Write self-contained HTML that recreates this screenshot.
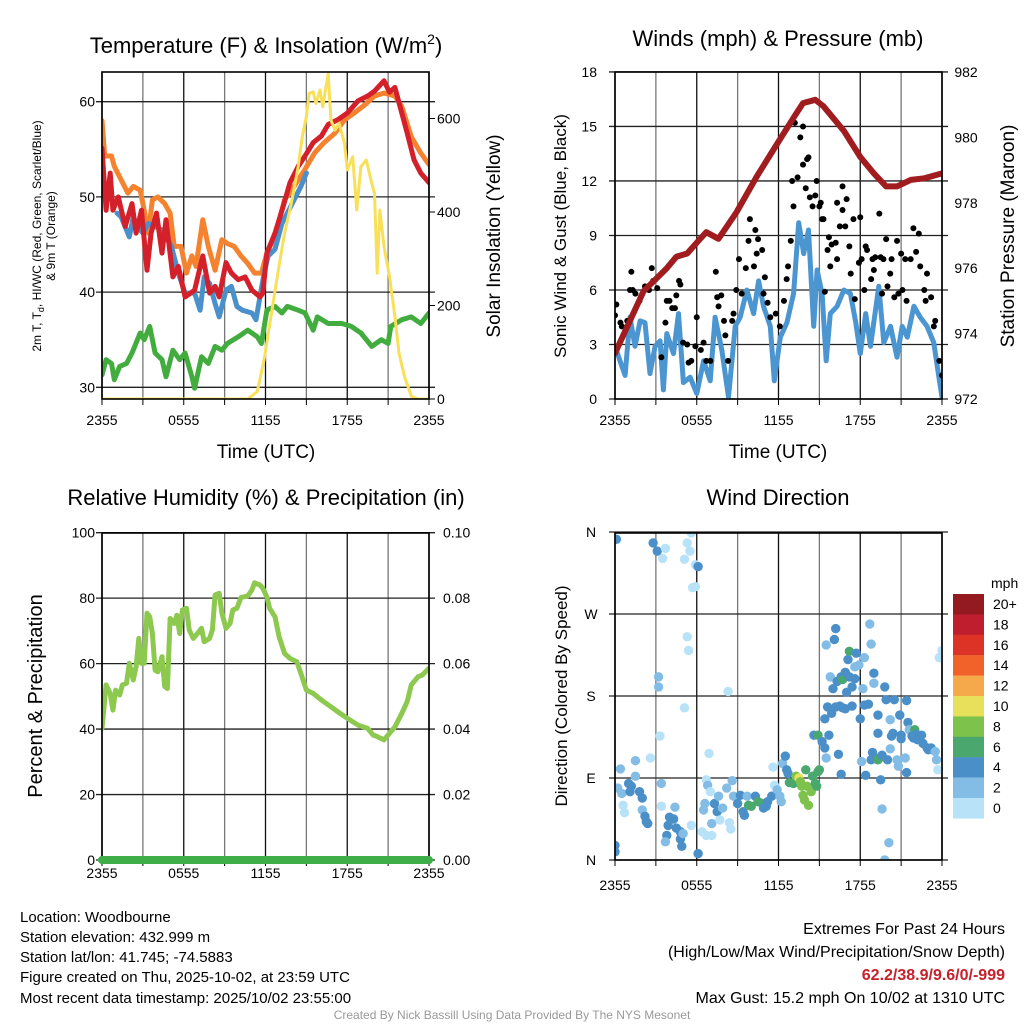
<!DOCTYPE html>
<html><head><meta charset="utf-8"><style>
html,body{margin:0;padding:0;background:#fff;}
svg{display:block;font-family:"Liberation Sans",Arial,sans-serif;}
</style></head><body>
<svg id="fig" width="1024" height="1024" viewBox="0 0 1024 1024" xmlns="http://www.w3.org/2000/svg">
<defs>
<clipPath id="c1"><rect x="102" y="72" width="327" height="327"/></clipPath>
<clipPath id="c2"><rect x="615" y="72" width="327" height="327"/></clipPath>
<clipPath id="c3"><rect x="102" y="533" width="327" height="327"/></clipPath>
<clipPath id="c4"><rect x="615" y="533" width="327" height="327"/></clipPath>
</defs>
<g id="p1"></g>
<g id="p2"></g>
<g id="p3"></g>
<g id="p4"></g>

<text x="266" y="53" font-size="22" text-anchor="middle">Temperature (F) &amp; Insolation (W/m<tspan dy="-9" font-size="14">2</tspan><tspan dy="9">)</tspan></text>
<text x="778" y="46" font-size="22" text-anchor="middle">Winds (mph) &amp; Pressure (mb)</text>
<text x="266" y="505" font-size="22" text-anchor="middle">Relative Humidity (%) &amp; Precipitation (in)</text>
<text x="778" y="505" font-size="22" text-anchor="middle">Wind Direction</text>

<text x="266" y="458" font-size="19" text-anchor="middle">Time (UTC)</text>
<text x="778" y="458" font-size="19" text-anchor="middle">Time (UTC)</text>

<text transform="translate(41,236) rotate(-90)" font-size="12" text-anchor="middle">2m T, T<tspan dy="3" font-size="9">d</tspan><tspan dy="-3">, HI/WC (Red, Green, Scarlet/Blue)</tspan></text>
<text transform="translate(55,236) rotate(-90)" font-size="12" text-anchor="middle">&amp; 9m T (Orange)</text>
<text transform="translate(500,236) rotate(-90)" font-size="19" text-anchor="middle">Solar Insolation (Yellow)</text>
<text transform="translate(566,236) rotate(-90)" font-size="17" text-anchor="middle">Sonic Wind &amp; Gust (Blue, Black)</text>
<text transform="translate(1014,236) rotate(-90)" font-size="19" text-anchor="middle">Station Pressure (Maroon)</text>
<text transform="translate(42,696) rotate(-90)" font-size="20" text-anchor="middle">Percent &amp; Precipitation</text>
<text transform="translate(567,696) rotate(-90)" font-size="17" text-anchor="middle">Direction (Colored By Speed)</text>

<g font-size="15">
<text x="20" y="922">Location: Woodbourne</text>
<text x="20" y="942">Station elevation: 432.999 m</text>
<text x="20" y="962">Station lat/lon: 41.745; -74.5883</text>
<text x="20" y="982">Figure created on Thu, 2025-10-02, at 23:59 UTC</text>
<text x="20" y="1003">Most recent data timestamp: 2025/10/02 23:55:00</text>
</g>
<g font-size="16" text-anchor="end">
<text x="1005" y="934">Extremes For Past 24 Hours</text>
<text x="1005" y="957">(High/Low/Max Wind/Precipitation/Snow Depth)</text>
<text x="1005" y="980" fill="#c8202a" font-weight="bold">62.2/38.9/9.6/0/-999</text>
<text x="1005" y="1003">Max Gust: 15.2 mph On 10/02 at 1310 UTC</text>
</g>
<text x="512" y="1019" font-size="12" fill="#999" text-anchor="middle">Created By Nick Bassill Using Data Provided By The NYS Mesonet</text>
</svg>
<script>
// ---- data ----
const timeTickLabels=["2355","0555","1155","1755","2355"];
const tempTicks=[30,40,50,60];
const solarTicks=[0,200,400,600];
const windTicks=[0,3,6,9,12,15,18];
const presTicks=[972,974,976,978,980,982];
const rhTicks=[0,20,40,60,80,100];
const precipTicks=["0.00","0.02","0.04","0.06","0.08","0.10"];
const dirTicks=["N","E","S","W","N"];
const speedBinLabels=["0","2","4","6","8","10","12","14","16","18","20+"];
const speedBinColors=["#b8e2f8","#83bde6","#4b8fc8","#4aa86f","#7dc24b","#e8e05a","#f6a94a","#f0622a","#dd3327","#be1e2d","#931a1e"];

const tempRed=[[0,55.1],[0.3,48.6],[0.6,52.5],[0.8,48.6],[1.2,50],[1.7,46.9],[2.2,49.3],[2.5,46.2],[2.9,48.6],[3.3,42.3],[3.6,46.2],[4.0,48.3],[4.4,44.1],[4.7,47.6],[5.2,41.6],[5.6,42.7],[6.1,39.5],[6.8,40.2],[7.4,43.8],[7.9,39.9],[8.3,40.6],[8.6,39.5],[9.1,43.1],[9.5,42],[10,41.3],[10.5,41.6],[11,40.2],[11.6,39.5],[11.8,39.9],[12.1,44.1],[12.7,46.2],[13.3,49],[13.8,51.5],[14.4,53.2],[14.9,54.3],[15.5,55.7],[16.1,56.4],[16.6,57.6],[17.3,58.1],[18.0,58.8],[18.8,60.1],[19.5,60.6],[20.0,61.1],[20.7,62.2],[21.1,61],[21.5,61.5],[21.8,59.9],[22.4,56.7],[22.9,53.9],[23.4,52.5],[24,51.5]];
const tempOrange=[[0,58],[0.2,54.3],[0.7,54.3],[0.9,53.2],[1.4,51.8],[1.9,50.4],[2.3,51.1],[2.8,50.7],[3.0,49.3],[3.4,46.2],[3.7,49.7],[4.1,50],[4.6,49.3],[5.0,48.3],[5.3,44.8],[5.8,44.8],[6.2,42],[6.6,43.8],[6.9,42.7],[7.4,47.6],[7.8,44.8],[8.3,42.3],[8.8,45.5],[9.2,45.1],[9.7,44.8],[10.2,43.8],[10.7,43],[11.2,42],[11.7,42],[12.1,44.1],[12.7,45.9],[13.4,49.7],[14.1,51.1],[14.9,52.9],[15.6,54.6],[16.3,55.7],[17.1,56.7],[17.8,58.1],[18.5,58.8],[19.3,59.7],[20.0,60.6],[20.7,60.9],[21.5,60.6],[22.0,59.5],[22.7,56.3],[23.4,54.6],[24,53.4]];
const tempBlue=[[1.1,48.3],[1.4,47.9],[2.0,45.8],[2.3,47.9],[2.6,46.9],[3.0,46.2],[3.4,47.2],[3.9,46.9],[4.4,46.5],[4.7,45.8],[5.1,44.8],[5.6,42],[6.1,39.9],[6.8,39.9],[7.2,38.1],[7.5,41.6],[7.9,40.9],[8.3,38.8],[8.6,37.4],[9.1,40.2],[9.5,40.6],[9.9,38.5],[10.3,38.1],[11.0,37.8],[11.3,37.1],[11.9,42],[12.2,43.8],[12.7,44.5],[13.2,47.2],[13.6,48.3],[14.1,49.7],[14.6,51.1],[15.0,52.5]];
const dewGreen=[[0,31.3],[0.3,32.9],[0.7,32.5],[0.9,30.8],[1.3,32.2],[1.8,32.5],[2.2,33.6],[2.8,35.7],[3.1,35],[3.5,36.4],[3.9,33.6],[4.4,32.9],[4.7,31.1],[5.2,33.9],[5.7,32.9],[6.1,33.6],[6.6,31.1],[6.8,29.9],[7.3,33.2],[7.8,32.5],[8.3,34.3],[8.8,33.9],[9.2,34.6],[10,35.3],[10.7,36],[11.4,35.3],[11.7,34.6],[12.1,38.1],[12.7,38.5],[13.2,37.8],[13.6,38.5],[14.4,38.1],[14.9,37.8],[15.5,36],[15.8,37.4],[16.6,36.7],[17.6,36.7],[18.3,36.4],[19.0,35.7],[19.8,34.3],[20.5,35],[21.0,34.6],[21.2,36.4],[22.0,37.1],[22.7,37.4],[23.4,36.7],[24,37.8]];
const solar=[[0,0],[10.7,0],[11.4,16],[11.9,84],[12.4,177],[12.9,269],[13.4,355],[13.9,419],[14.4,497],[14.7,561],[15.0,604],[15.2,654],[15.5,657],[15.7,632],[16.0,661],[16.2,625],[16.6,696],[16.8,597],[17.1,575],[17.4,590],[17.8,547],[18.0,490],[18.4,518],[18.7,404],[19.0,497],[19.4,511],[19.8,461],[20.0,440],[20.2,269],[20.4,404],[20.7,326],[21.1,262],[21.5,177],[21.8,98],[22.2,48],[22.7,6],[23.2,0],[24,0]];

const pressure=[[0,973.4],[2.1,975.3],[3.8,976.0],[4.5,976.35],[5.3,976.45],[6.25,976.9],[6.7,977.1],[7.6,976.9],[8.9,977.7],[10.4,978.8],[11.9,979.8],[13.1,980.6],[13.8,981.05],[14.7,981.15],[15.3,980.95],[16.8,980.2],[18.0,979.4],[19.0,978.9],[19.9,978.5],[20.7,978.5],[21.7,978.7],[22.7,978.75],[24,978.9]];
const windSpeed=[[0,2.9],[0.37,2.1],[0.74,1.3],[1.1,4.5],[1.47,2.9],[1.84,4.3],[2.2,4.2],[2.57,1.4],[2.94,2.9],[3.31,3.2],[3.55,0.5],[3.8,3.6],[4.29,2.5],[4.66,4.7],[5.02,0.9],[5.51,1.2],[6.0,0.3],[6.5,2.1],[6.99,1.0],[7.35,4.5],[7.84,2.7],[8.33,0.1],[8.82,4.0],[9.19,4.5],[9.68,6.0],[10.17,4.7],[10.54,6.5],[10.9,5.1],[11.4,4.0],[11.69,1.0],[12.13,3.4],[12.62,4.2],[13.11,5.8],[13.48,9.7],[13.85,8.0],[14.2,9.3],[14.58,4.0],[14.83,7.1],[15.2,5.8],[15.5,2.1],[15.8,4.7],[16.3,5.1],[16.8,6.0],[17.28,5.8],[17.65,4.3],[18.0,2.5],[18.4,4.7],[18.75,2.9],[19.36,6.2],[19.73,3.1],[20.22,4.0],[20.7,2.3],[21.08,4.0],[21.45,3.4],[21.94,5.1],[22.4,4.5],[22.9,4.0],[23.4,3.1],[23.77,1.2],[24,0.1]];
const gusts=[[0.0,4.6],[0.1,5.2],[0.4,4.2],[0.5,4.0],[0.9,4.3],[1.1,6.0],[1.2,7.0],[1.3,6.0],[1.5,5.8],[1.8,5.4],[2.2,6.2],[2.5,6.0],[2.7,7.2],[2.8,6.5],[3.1,6.1],[3.4,2.3],[3.7,4.2],[3.8,5.4],[4.0,5.4],[4.2,5.0],[4.4,5.0],[4.5,5.7],[4.7,6.5],[4.8,6.3],[5.0,3.1],[5.3,3.0],[5.4,2.0],[5.6,2.1],[5.9,2.9],[6.0,4.5],[6.3,2.7],[6.5,3.1],[6.7,2.1],[7.0,2.1],[7.4,7.0],[7.5,5.6],[7.6,5.1],[7.8,5.7],[8.0,4.3],[8.1,3.5],[8.3,2.1],[8.6,4.3],[8.7,4.7],[8.9,6.0],[9.1,7.7],[9.3,5.8],[9.6,7.2],[9.8,8.7],[9.9,9.9],[10.2,7.3],[10.3,9.3],[10.4,8.0],[10.5,8.8],[10.8,8.2],[10.9,5.8],[11.0,6.7],[11.2,5.3],[11.4,4.5],[11.8,4.7],[12.1,4.0],[12.4,5.4],[12.6,6.6],[12.7,7.3],[12.9,8.7],[13.0,12.0],[13.1,10.6],[13.2,15.2],[13.4,12.2],[13.6,14.4],[13.8,15.0],[13.8,12.9],[14.0,11.6],[14.1,13.2],[14.2,13.3],[14.3,11.1],[14.5,10.6],[14.7,11.2],[14.8,12.0],[15.0,10.6],[15.1,10.8],[15.2,9.9],[15.3,9.9],[15.4,5.9],[15.6,8.2],[15.7,8.9],[15.8,7.3],[15.9,8.5],[16.2,8.6],[16.3,7.7],[16.3,10.8],[16.5,9.5],[16.7,10.4],[16.7,11.7],[16.9,9.5],[17.0,11.0],[17.2,8.4],[17.3,6.9],[17.5,9.9],[17.6,5.5],[17.9,7.5],[18.0,10.0],[18.1,7.7],[18.3,6.0],[18.4,8.4],[18.5,8.2],[18.8,6.6],[18.9,7.7],[19.0,7.1],[19.1,7.8],[19.4,10.2],[19.5,7.8],[19.6,5.8],[19.7,7.7],[19.9,8.8],[20.0,6.2],[20.2,6.9],[20.3,7.7],[20.5,5.6],[20.7,8.7],[20.8,5.8],[21.0,8.0],[21.1,6.0],[21.3,7.7],[21.4,5.4],[21.7,7.7],[21.9,9.4],[22.1,8.1],[22.3,9.1],[22.4,7.3],[22.7,6.0],[22.8,5.4],[22.9,6.9],[23.2,5.6],[23.4,4.0],[23.5,4.3],[23.8,2.1],[24.0,1.3]];

const relHum=[[0,40.2],[0.3,53.5],[0.6,50.9],[0.8,45.8],[1.0,51.9],[1.3,50.4],[1.5,53.5],[1.8,54],[2.0,60.1],[2.3,55],[2.5,59.1],[2.7,67.7],[2.9,60.1],[3.1,60.1],[3.3,75.4],[3.5,74.3],[3.7,69.2],[3.9,58],[4.1,57.5],[4.4,62.1],[4.6,53],[4.8,52.4],[5.0,73.8],[5.3,72.3],[5.5,74.8],[5.7,69.2],[5.9,76.4],[6.2,76.9],[6.4,70.3],[6.7,67.7],[7.0,69.2],[7.3,70.8],[7.5,66.7],[7.9,67.7],[8.1,70.3],[8.3,81],[8.6,81.5],[8.8,75.4],[9.1,70.8],[9.4,72.3],[9.6,76.4],[9.9,76.9],[10.2,80.2],[10.7,80.7],[11.0,82.5],[11.2,84.7],[11.6,84],[11.8,83],[12.1,80.4],[12.3,76.9],[12.7,74.3],[13.0,68.2],[13.4,63.1],[13.8,61.6],[14.3,60.6],[14.6,57],[15.0,51.9],[15.5,50.9],[16.1,48.9],[16.6,47.4],[17.3,45.3],[18.0,43.3],[18.8,41.2],[19.5,40.2],[19.9,38.2],[20.2,37.7],[20.7,36.7],[21.1,38.7],[21.5,40.7],[22.0,44.8],[22.4,48.4],[22.7,53.5],[23.2,56],[23.5,56.5],[24,58.6]];
const precip=[[0,0],[24,0]];

const windDir=[[0.1,352,5],[2.8,348,5],[3.1,339,5],[3.7,342,1],[3.5,331,1],[5.3,348,1],[5.5,339,1],[5.1,330,1],[5.6,359,1],[5.9,324,1],[6.1,322,5],[5.7,299,1],[5.9,300,1],[5.3,245,1],[5.4,230,1],[3.2,201,3],[3.2,190,3],[8.3,185,1],[5.1,167,1],[3.3,136,1],[0.4,100,3],[1.5,109,3],[2.6,112,1],[6.9,117,1],[11.6,102,1],[0.2,79,3],[0.5,73,3],[1.0,84,5],[1.2,81,5],[1.1,75,5],[1.5,92,3],[1.8,75,5],[2.0,68,5],[0.6,60,1],[0.7,52,1],[2.0,55,3],[2.2,48,5],[2.3,42,5],[2.4,40,5],[3.4,84,3],[3.4,59,1],[4.4,58,3],[4.0,47,5],[4.3,45,5],[3.9,38,5],[4.5,35,5],[4.8,31,5],[3.8,27,5],[3.7,20,3],[4.8,23,5],[5.0,29,3],[5.6,38,1],[4.9,15,5],[6.1,7,5],[0,16,5],[0,9,5],[6.4,31,1],[6.7,27,1],[7.1,27,1],[6.7,88,1],[6.8,82,3],[7.0,75,1],[6.6,62,3],[6.5,55,3],[7.1,40,3],[7.3,62,5],[7.5,53,5],[7.6,70,3],[7.9,57,3],[8.2,79,3],[8.4,41,1],[8.5,34,1],[8.6,87,3],[7.7,44,1],[8.7,70,3],[9.0,62,5],[9.2,71,5],[9.4,53,5],[9.5,49,5],[9.7,70,3],[9.8,60,7],[10.0,59,7],[10.3,70,5],[10.5,64,7],[10.8,62,7],[10.9,57,5],[11.1,59,5],[11.2,64,5],[11.5,70,5],[11.7,82,1],[11.9,77,3],[12.1,70,3],[12.2,64,3],[12.3,106,3],[12.5,114,5],[12.6,99,5],[12.7,95,5],[12.8,85,7],[13.1,84,7],[13.3,92,9],[13.5,90,11],[13.6,86,9],[13.7,81,9],[13.8,71,9],[13.9,66,9],[14.1,81,9],[14.2,60,9],[14.4,75,9],[14.0,99,7],[14.5,92,7],[14.7,84,7],[14.8,81,7],[14.9,97,7],[15.0,99,7],[14.6,137,5],[14.9,137,7],[15.2,130,5],[15.4,123,5],[15.5,112,3],[15.4,155,5],[15.6,168,5],[15.7,137,5],[15.9,161,5],[16.2,168,5],[16.5,169,5],[16.7,167,5],[16.9,166,5],[16.4,116,5],[16.6,94,5],[15.8,201,3],[16.0,188,5],[16.3,196,5],[16.6,201,5],[16.7,198,7],[17.0,184,5],[16.9,206,5],[17.2,201,5],[17.4,190,5],[17.6,199,5],[17.4,169,5],[17.1,220,5],[17.2,229,7],[17.7,227,5],[17.6,212,3],[17.9,214,3],[18.3,222,3],[15.5,236,3],[16.1,242,5],[16.2,254,5],[18.7,259,3],[18.8,237,3],[18.0,155,5],[18.1,108,3],[18.2,188,3],[18.3,170,5],[18.6,171,5],[18.4,93,5],[19.0,205,5],[19.0,194,3],[19.3,159,5],[19.3,139,5],[18.9,118,5],[18.8,110,5],[19.3,110,7],[19.4,112,7],[19.5,88,5],[19.6,115,5],[19.8,190,5],[19.9,176,5],[20.0,110,5],[20.2,154,3],[20.2,122,3],[20.3,136,5],[20.4,139,5],[20.5,176,5],[20.7,110,3],[20.8,103,3],[20.9,159,5],[21.0,137,5],[21.0,133,5],[21.3,112,3],[21.4,96,5],[21.4,175,5],[21.5,151,5],[21.6,143,3],[21.8,136,5],[22.0,143,7],[21.9,134,5],[22.1,138,5],[22.2,132,5],[22.5,137,5],[22.6,128,5],[22.9,123,5],[23.0,121,5],[23.2,123,5],[23.5,119,3],[23.6,110,3],[23.7,99,1],[24.0,230,1],[23.8,222,1],[19.6,56,3],[20.1,19,3],[19.8,0,3]];

// ---- helpers ----
const NS="http://www.w3.org/2000/svg";
function mk(parent,tag,attrs){const e=document.createElementNS(NS,tag);for(const k in attrs)e.setAttribute(k,attrs[k]);parent.appendChild(e);return e;}
const xA=h=>102+h*327/24, xB=h=>615+h*327/24;
const yTemp=v=>387.3-(v-30)*9.52, ySolar=w=>399-w*0.4675;
const yWind=m=>399-m*18.17, yPres=p=>399-(p-972)*32.7;
const yRH=r=>860-r*3.273, yPrecip=p=>860-p*3273;
const yDir=d=>860-d*328/360;
function pathD(data,xf,yf){return data.map((d,i)=>(i?"L":"M")+xf(d[0]).toFixed(1)+","+yf(d[1]).toFixed(1)).join("");}

function frame(g,x0,y0,clipId,hLines){
  const grid=mk(g,"g",{});
  
  
  for(let i=0;i<=8;i++){const x=x0+i*327/8;const l=mk(grid,"line",{x1:x,x2:x,y1:y0,y2:y0+327,stroke:i%2?"#777":"#111","stroke-width":1.3});
    
    
    const t=mk(grid,"line",{x1:x,x2:x,y1:y0+327,y2:y0+333,stroke:"#000","stroke-width":1});
    
    }
  hLines.forEach(y=>{const l=mk(grid,"line",{x1:x0-6,x2:x0+333,y1:y,y2:y,stroke:"#222","stroke-width":1.3});
    
    });
  const body=mk(g,"g",{"clip-path":"url(#"+clipId+")"});
  
  
  return body;
}
function border(g,x0,y0){const r=mk(g,"rect",{x:x0,y:y0,width:327,height:327,fill:"none",stroke:"#000","stroke-width":1.6});
  
  }
function xLabels(g,xf,y){timeTickLabels.forEach((s,i)=>{const t=mk(g,"text",{x:xf(i*6),y:y,"font-size":14,"text-anchor":"middle"});t.textContent=s;
  
  });}
function yLabels(g,vals,labels,yf,x,anchor){vals.forEach((v,i)=>{const t=mk(g,"text",{x:x,y:yf(v)+5,"font-size":14,"text-anchor":anchor});t.textContent=labels[i];
  
  });}
function line(g,data,xf,yf,color,w,name){const p=mk(g,"path",{d:pathD(data,xf,yf),fill:"none",stroke:color,"stroke-width":w,"stroke-linejoin":"round","stroke-linecap":"round"});
  
  return p;}

// ---- panel 1 ----
const g1=document.getElementById("p1");
const b1=frame(g1,102,72,"c1",tempTicks.map(yTemp));
line(b1,dewGreen,xA,yTemp,"#42ad3e",5,"dewpoint-line");
line(b1,tempOrange,xA,yTemp,"#f5822f",5,"temp-9m-line");
line(b1,tempBlue,xA,yTemp,"#4a90cb",5,"heat-index-windchill-line");
line(b1,tempRed,xA,yTemp,"#d4202a",5,"temp-2m-line");
line(b1,solar,xA,ySolar,"#f8e05a",3,"solar-insolation-line");
border(g1,102,72);
yLabels(g1,tempTicks,tempTicks.map(String),yTemp,95,"end");
yLabels(g1,solarTicks,solarTicks.map(String),ySolar,437,"start");
solarTicks.forEach(v=>{const t=mk(g1,"line",{x1:429,x2:435,y1:ySolar(v),y2:ySolar(v),stroke:"#000"});
  
  });
xLabels(g1,xA,425);

// ---- panel 2 ----
const g2=document.getElementById("p2");
const b2=frame(g2,615,72,"c2",windTicks.map(yWind));
line(b2,windSpeed,xB,yWind,"#4b95d1",5,"wind-speed-line");
gusts.forEach(d=>{const c=mk(b2,"circle",{cx:xB(d[0]),cy:yWind(d[1]),r:3,fill:"#000"});
  
  });
line(b2,pressure,xB,yPres,"#a01c1f",6,"pressure-line");
border(g2,615,72);
yLabels(g2,windTicks,windTicks.map(String),yWind,597,"end");
yLabels(g2,presTicks,presTicks.map(String),yPres,966,"middle");
xLabels(g2,xB,425);

// ---- panel 3 ----
const g3=document.getElementById("p3");
const b3=frame(g3,102,533,"c3",rhTicks.map(yRH));
line(b3,relHum,xA,yRH,"#8dc84f",5,"relative-humidity-line");
border(g3,102,533);
line(g3,precip,xA,yPrecip,"#3fae49",8,"precipitation-line");
yLabels(g3,rhTicks,rhTicks.map(String),yRH,95,"end");
yLabels(g3,[0,0.02,0.04,0.06,0.08,0.10],precipTicks,yPrecip,443,"start");
xLabels(g3,xA,878);

// ---- panel 4 ----
const g4=document.getElementById("p4");
const b4=frame(g4,615,533,"c4",[0,90,180,270,360].map(yDir));
windDir.forEach(d=>{const bin=Math.min(10,Math.floor(d[2]/2));const c=mk(b4,"circle",{cx:xB(d[0]),cy:yDir(d[1]),r:4.7,fill:speedBinColors[bin]});
  
  });
border(g4,615,533);
yLabels(g4,[0,90,180,270,360],dirTicks,yDir,591,"middle");
xLabels(g4,xB,890);

// colorbar
const cb=mk(g4,"g",{});


const unit=mk(cb,"text",{x:991,y:588,"font-size":14});unit.textContent="mph";


speedBinLabels.forEach((s,i)=>{const k=10-i;const y=594+i*20.4;
  const r=mk(cb,"rect",{x:953,y:y,width:31,height:20.6,fill:speedBinColors[k]});
  
  
  const t=mk(cb,"text",{x:993,y:y+15,"font-size":14});t.textContent=speedBinLabels[k];
  
  });
</script>
</body></html>
